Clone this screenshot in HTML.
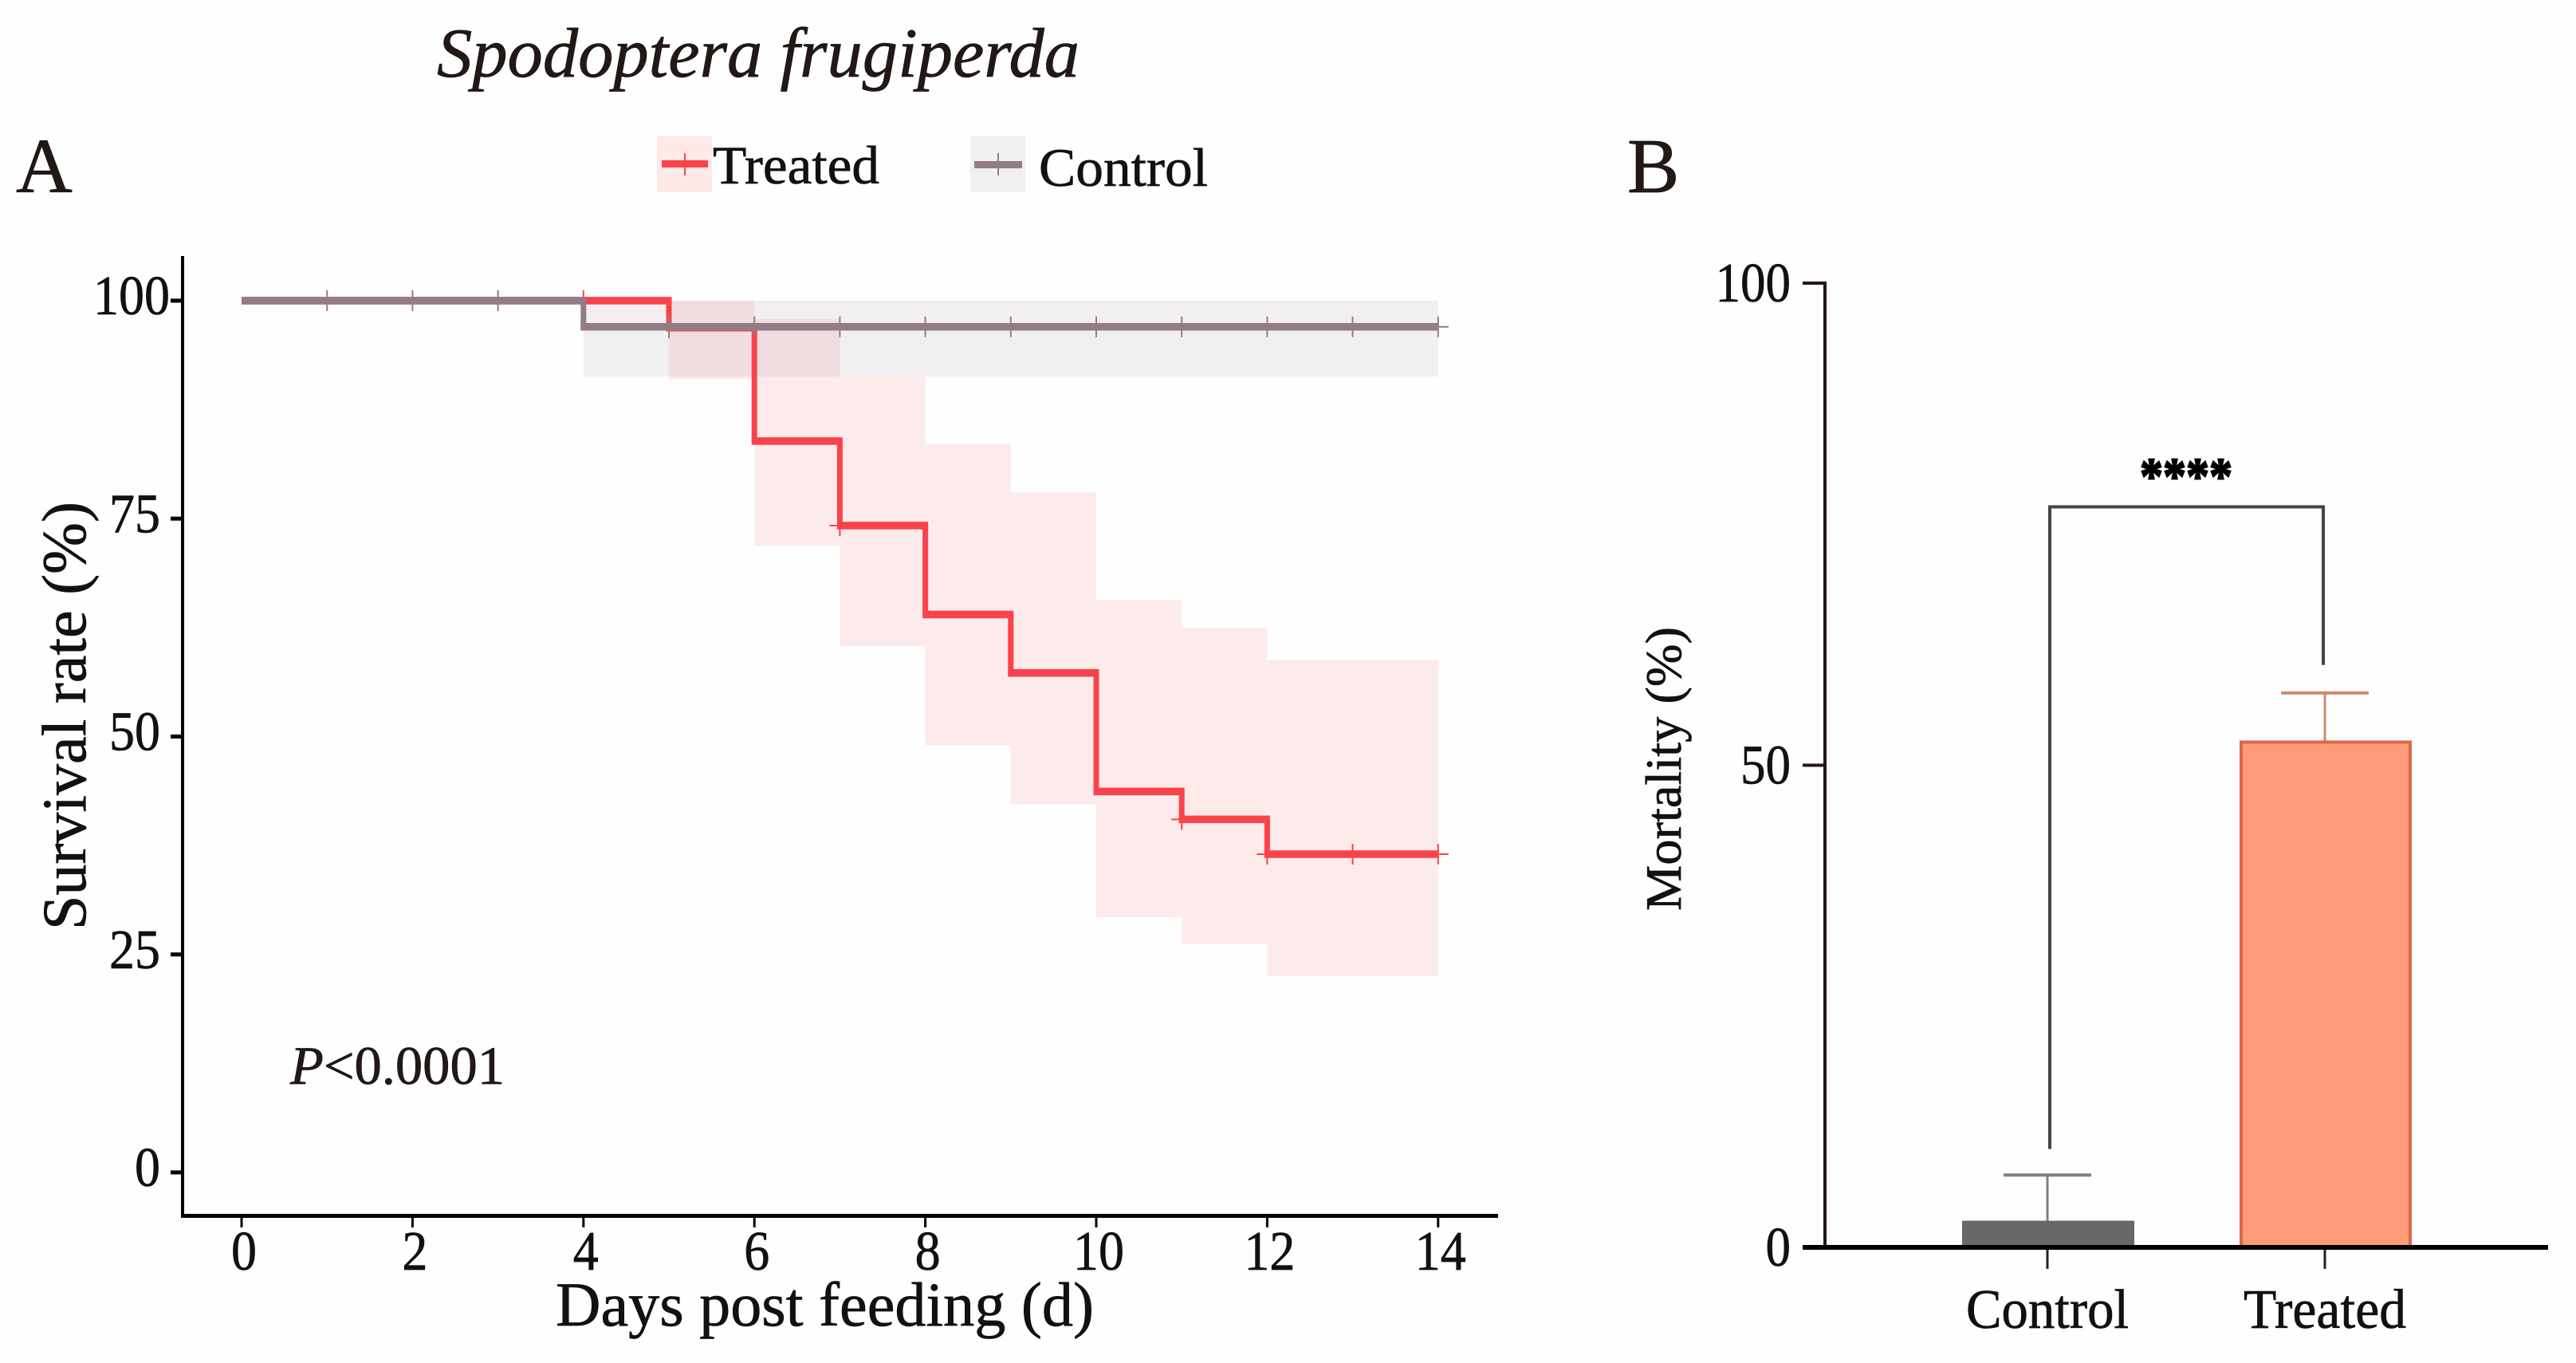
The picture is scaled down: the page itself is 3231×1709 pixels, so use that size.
<!DOCTYPE html>
<html lang="en">
<head>
<meta charset="utf-8">
<title>Spodoptera frugiperda survival and mortality</title>
<style>
html,body{margin:0;padding:0;background:#fefefe;}
svg{display:block;width:3231px;height:1709px;}
text{font-family:"Liberation Serif","Times New Roman",serif;stroke:#111;stroke-width:.7;}
</style>
</head>
<body>
<svg id="figure" xmlns="http://www.w3.org/2000/svg" width="3231" height="1709" viewBox="0 0 3231 1709">
  <rect x="0" y="0" width="3231" height="1709" fill="#fefefe"/>
  <text x="548" y="96" font-size="88" font-style="italic" fill="#231815" textLength="806" lengthAdjust="spacingAndGlyphs">Spodoptera frugiperda</text>
  <text x="20" y="241" font-size="98" fill="#231815">A</text>
  <text x="2041" y="241" font-size="98" fill="#231815">B</text>

  <g id="panel-a"></g>
  <g id="legend">
    <g>
      <rect x="824" y="171" width="69" height="70" fill="#fee8e8"/>
      <rect x="830" y="201" width="58" height="9" fill="#f9434a"/>
      <rect x="858" y="192" width="2" height="28" fill="#f9434a"/>
      <text x="894" y="230" font-size="68" fill="#111" textLength="209" lengthAdjust="spacingAndGlyphs">Treated</text>
    </g>
    <g>
      <rect x="1217" y="171" width="69" height="70" fill="#f1f0f0"/>
      <rect x="1222" y="202" width="60" height="9" fill="#937c84"/>
      <rect x="1251" y="192" width="2" height="28" fill="#937c84"/>
      <text x="1303" y="233" font-size="68" fill="#111" textLength="212" lengthAdjust="spacingAndGlyphs">Control</text>
    </g>
  </g>
  <text transform="translate(107,1166) rotate(-90)" font-size="78" fill="#111" textLength="537" lengthAdjust="spacingAndGlyphs">Survival rate (%)</text>
  <text x="697" y="1662" font-size="78" fill="#111" textLength="675" lengthAdjust="spacingAndGlyphs">Days post feeding (d)</text>
  <text x="364" y="1359" font-size="68" fill="#231815" textLength="269" lengthAdjust="spacingAndGlyphs"><tspan font-style="italic">P</tspan>&lt;0.0001</text>

  <g id="panel-b"></g>
  <text transform="translate(2108,1142) rotate(-90)" font-size="64" fill="#111" textLength="356" lengthAdjust="spacingAndGlyphs">Mortality (%)</text>
  <text x="2742" y="619" font-size="66" font-weight="bold" fill="#000" stroke="#000" style="stroke:#000;stroke-width:2" text-anchor="middle" textLength="116" lengthAdjust="spacingAndGlyphs">****</text>
</svg>
<script>
// ---- Panel A data ----
const xTickDays = [0, 2, 4, 6, 8, 10, 12, 14];
const yTickSurvival = [0, 25, 50, 75, 100];
const treatedTimes = [0, 5, 6, 7, 8, 9, 10, 11, 12, 14];
const treatedSurvival = [100, 96.9, 83.9, 74.2, 64, 57.3, 43.7, 40.5, 36.5, 36.5];
const treatedUpper = [100, 100, 97.9, 91.3, 83.6, 78, 65.7, 62.5, 58.8, 58.8];
const treatedLower = [100, 91, 71.9, 60.4, 49, 42.2, 29.3, 26.2, 22.5, 22.5];
const controlTimes = [0, 4, 14];
const controlSurvival = [100, 97, 97];
const controlUpper = [100, 100, 100];
const controlLower = [100, 91.3, 91.3];
const treatedCensorDays = [4, 5, 7, 11, 12, 13, 14];
const controlCensorDays = [1, 2, 3, 5, 6, 7, 8, 9, 10, 11, 12, 13, 14];

// ---- Panel B data ----
const mortalityGroups = ["Control", "Treated"];
const mortalityMeans = [2.6, 52.4];
const mortalityErrors = [4.9, 5.1];
const mortalityTicks = [0, 50, 100];
const bracketTop = 76.8;
const bracketEnds = [10.2, 60.4];

const NS = "http://www.w3.org/2000/svg";
function mk(parent, tag, attrs, txt) {
  const el = document.createElementNS(NS, tag);
  for (const k in attrs) el.setAttribute(k, attrs[k]);
  if (txt !== undefined) el.textContent = txt;
  parent.appendChild(el);
  return el;
}

// Panel A axis functions
const xDay = d => 303 + d * 107.2;
const ySurv = v => 1470 - v * 10.93;

const A = document.getElementById("panel-a");

function bandPath(times, hi, lo) {
  let d = "";
  for (let i = 0; i < times.length - 1; i++) {
    const x0 = xDay(times[i]), x1 = xDay(times[i + 1]);
    d += "M" + x0 + " " + ySurv(hi[i]) + "H" + x1 + "V" + ySurv(lo[i]) + "H" + x0 + "Z";
  }
  return d;
}
function horizontalRuns(times, vals) {
  let d = "";
  for (let i = 0; i < times.length - 1; i++) {
    d += "M" + (xDay(times[i]) - (i ? 3.5 : 0)) + " " + ySurv(vals[i]) + "H" + (xDay(times[i + 1]) + (i < times.length - 2 ? 3.5 : 0));
  }
  return d;
}
function verticalDrops(times, vals) {
  let d = "";
  for (let i = 1; i < times.length; i++) {
    d += "M" + xDay(times[i]) + " " + ySurv(vals[i - 1]) + "V" + ySurv(vals[i]);
  }
  return d;
}
function survAt(times, vals, day) {
  let v = vals[0];
  for (let i = 0; i < times.length; i++) if (times[i] <= day) v = vals[i];
  return v;
}

const treatedBand = mk(A, "path", {d: bandPath(treatedTimes, treatedUpper, treatedLower), fill: "#f9434a", "fill-opacity": 0.105});


const controlBand = mk(A, "path", {d: bandPath(controlTimes, controlUpper, controlLower), fill: "#7d6a72", "fill-opacity": 0.1});



function censors(days, times, vals, color, nameValue) {
  const g = mk(A, "g", {stroke: color, "stroke-width": 2, fill: "none"});
  
  
  days.forEach(day => {
    const x = xDay(day), y = ySurv(survAt(times, vals, day));
    const m = mk(g, "path", {d: "M" + (x - 13) + " " + y + "H" + (x + 13) + "M" + x + " " + (y - 13) + "V" + (y + 13)});
    
    
  });
}
function stepLine(times, vals, color, nameValue) {
  const g = mk(A, "g", {fill: "none", stroke: color});
  
  
  const h = mk(g, "path", {d: horizontalRuns(times, vals), "stroke-width": 9.5});
  
  
  const v = mk(g, "path", {d: verticalDrops(times, vals), "stroke-width": 7});
  
  
}

stepLine(treatedTimes, treatedSurvival, "#f9434a", "treated-survival-line");
censors(treatedCensorDays, treatedTimes, treatedSurvival, "#f9434a", "treated-censor-marks");
stepLine(controlTimes, controlSurvival, "#937c84", "control-survival-line");
censors(controlCensorDays, controlTimes, controlSurvival, "#937c84", "control-censor-marks");

// Panel A axes
const yAxisA = mk(A, "rect", {x: 227, y: 321, width: 4, height: 1206, fill: "#000"});


const xAxisA = mk(A, "rect", {x: 227, y: 1522, width: 1652, height: 5, fill: "#000"});



yTickSurvival.forEach(v => {
  const t = mk(A, "rect", {x: 214, y: ySurv(v) - 2.5, width: 14, height: 5, fill: "#000"});
  
  
  const s = String(v);
  const l = mk(A, "text", {x: v === 100 ? 213 : 201, y: ySurv(v) + 17, "font-size": 70, "text-anchor": "end", fill: "#111", textLength: s.length * 32, lengthAdjust: "spacingAndGlyphs"}, s);
  
  
});
xTickDays.forEach(d => {
  const t = mk(A, "rect", {x: xDay(d) - 1.5, y: 1526, width: 3, height: 13, fill: "#000"});
  
  
  const s = String(d);
  const l = mk(A, "text", {x: xDay(d) + 3, y: 1592, "font-size": 70, "text-anchor": "middle", fill: "#111", textLength: s.length * 32, lengthAdjust: "spacingAndGlyphs"}, s);
  
  
});

// Panel B axis functions
const xGroup = i => 2568 + i * 348;
const yMort = v => 1564 - v * 12.09;
const barColors = ["#666968", "#ff9b78"];
const barEdges = ["#666968", "#d9694a"];
const errColors = ["#7f7f7f", "#d08a70"];
const B = document.getElementById("panel-b");

mortalityGroups.forEach((name, i) => {
  const cx = xGroup(i);
  const top = yMort(mortalityMeans[i] + mortalityErrors[i]);
  const stem = mk(B, "rect", {x: cx - 1.5, y: top, width: 3, height: yMort(mortalityMeans[i]) - top, fill: errColors[i]});
  
  
  const cap = mk(B, "rect", {x: cx - 55, y: top - 2, width: 110, height: 4, fill: errColors[i]});
  
  
  const bar = mk(B, "rect", {x: cx - 105, y: yMort(mortalityMeans[i]), width: 212, height: 1564 - yMort(mortalityMeans[i]), fill: barColors[i], stroke: barEdges[i], "stroke-width": 4});
  
  
  const t = mk(B, "rect", {x: cx - 1.5, y: 1564, width: 3, height: 27, fill: "#222"});
  
  
  const l = mk(B, "text", {x: cx, y: 1665, "font-size": 70, "text-anchor": "middle", fill: "#111", textLength: 204, lengthAdjust: "spacingAndGlyphs"}, name);
  
  
});

const yAxisB = mk(B, "rect", {x: 2287, y: 353, width: 4, height: 1213, fill: "#231815"});


const xAxisB = mk(B, "rect", {x: 2261, y: 1561, width: 935, height: 6, fill: "#000"});


mortalityTicks.forEach(v => {
  if (v > 0) {
    const t = mk(B, "rect", {x: 2261, y: yMort(v) - 2, width: 28, height: 4, fill: "#231815"});
    
    
  }
  const s = String(v);
  const l = mk(B, "text", {x: 2246, y: yMort(v) + 23, "font-size": 70, "text-anchor": "end", fill: "#111", textLength: s.length * 31.5, lengthAdjust: "spacingAndGlyphs"}, s);
  
  
});

const bracket = mk(B, "path", {
  d: "M" + (xGroup(0) + 3) + " " + yMort(bracketEnds[0]) + "V" + yMort(bracketTop) + "H" + (xGroup(1) - 2) + "V" + yMort(bracketEnds[1]),
  fill: "none", stroke: "#444", "stroke-width": 4
});


</script>
</body>
</html>
